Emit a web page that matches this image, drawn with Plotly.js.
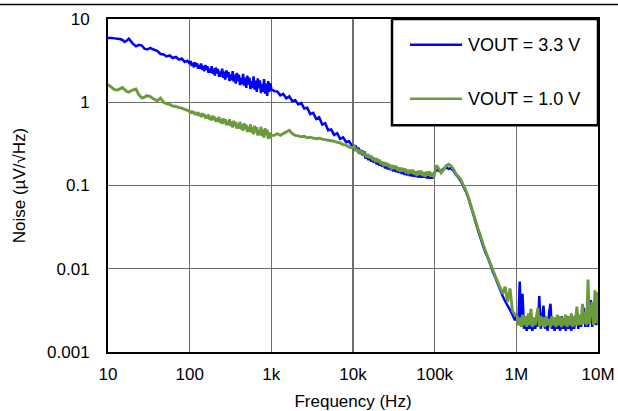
<!DOCTYPE html>
<html>
<head>
<meta charset="utf-8">
<script src="https://cdn.plot.ly/plotly-3.0.1.min.js"></script>
<style>
  html, body { margin: 0; padding: 0; background: #fff; }
  #chart { width: 618px; height: 411px; }
</style>
</head>
<body>
<div id="chart"></div>
<script>
// Frequency points (Hz)
const freqHz = [
  10,11,12,13,14,15,16,17,18,20,22,24,26,28,30,33,36,40,44,48,52,57,62,68,74,80,87,94,100,
  103,106,109,113,116,119,123,127,130,134,138,143,147,151,156,160,165,170,175,181,
  186,192,197,203,209,216,222,229,236,243,250,258,265,273,281,290,299,307,317,326,
  336,346,356,367,378,389,401,413,425,438,451,465,479,493,508,523,539,555,572,589,
  606,625,643,663,682,703,724,746,768,791,815,839,864,890,917,945,973,
  1000,1088,1184,1288,1401,1525,1659,1805,1964,2137,2325,2530,2752,2994,3258,3545,3857,4196,4566,4967,5404,5880,6398,6961,7573,8240,8965,9754,
  10400,10800,11200,11700,12200,12700,13200,13700,14200,14800,15400,16000,16700,17300,18000,18800,19500,20300,21100,21900,
  22800,23700,24700,25700,26700,27800,28900,30000,31200,32500,33800,35100,36500,38000,39500,41100,42700,44400,46200,48100,
  50000,52000,54100,56200,58500,60800,63200,65800,68400,71100,74000,76900,80000,83200,86500,90000,93600,97300,
  105e3,112e3,120e3,129e3,138e3,148e3,158e3,170e3,182e3,195e3,209e3,224e3,240e3,257e3,276e3,296e3,317e3,340e3,364e3,390e3,418e3,448e3,480e3,515e3,552e3,592e3,634e3,680e3,729e3,781e3,837e3,897e3,962e3,
  1.02e6,1.06e6,1.10e6,1.15e6,1.19e6,1.24e6,1.29e6,1.34e6,1.40e6,1.45e6,1.51e6,1.57e6,1.63e6,1.70e6,1.77e6,1.84e6,1.91e6,1.99e6,2.07e6,2.15e6,
  2.24e6,2.33e6,2.42e6,2.52e6,2.62e6,2.72e6,2.83e6,2.94e6,3.06e6,3.18e6,3.31e6,3.44e6,3.58e6,3.72e6,3.87e6,4.03e6,4.19e6,4.36e6,4.53e6,4.71e6,
  4.90e6,5.10e6,5.30e6,5.51e6,5.73e6,5.96e6,6.20e6,6.45e6,6.71e6,6.98e6,7.26e6,7.55e6,7.85e6,8.16e6,8.49e6,8.83e6,9.18e6,9.55e6,9.93e6,1e7
];

// Noise (uV/rtHz), VOUT = 3.3 V
const noise33 = [
  5.9,5.9,5.85,5.8,5.75,5.6,5.3,5.5,5.8,5.1,4.7,4.9,4.8,4.4,4.3,4.5,4.3,4.15,3.8,3.75,3.55,3.65,3.4,3.5,3.25,3.35,3.05,3.15,2.9,
  3.14,2.73,2.98,2.63,3.03,2.70,2.93,2.53,2.79,2.53,2.92,2.45,2.75,2.35,2.81,2.44,2.71,2.25,2.55,2.26,
  2.72,2.19,2.53,2.09,2.61,2.21,2.51,2.02,2.34,2.04,2.53,1.97,2.33,1.87,2.42,2.00,2.32,1.80,2.15,1.83,
  2.36,1.77,2.15,1.67,2.25,1.80,2.14,1.61,1.97,1.64,2.19,1.58,1.97,1.49,2.09,1.63,1.98,1.44,1.81,1.48,
  2.04,1.42,1.82,1.33,1.94,1.47,1.83,1.29,1.66,1.33,1.90,1.27,1.67,1.19,1.80,1.33,1.69,
  1.43,1.36,1.35,1.21,1.26,1.11,1.18,1.03,1.06,0.94,0.98,0.84,0.86,0.72,0.745,0.63,0.66,0.54,0.56,0.46,0.47,0.405,0.425,0.364,0.378,0.331,0.34,0.298,
  0.269,0.302,0.259,0.284,0.239,0.266,0.229,0.258,0.211,0.232,0.202,0.225,0.194,0.218,0.188,0.206,0.179,0.200,0.173,0.195,
  0.168,0.185,0.161,0.180,0.156,0.177,0.153,0.169,0.148,0.166,0.1445,0.164,0.142,0.1575,0.138,0.156,0.134,0.155,0.132,0.149,
  0.129,0.149,0.1275,0.148,0.127,0.144,0.1245,0.144,0.124,0.144,0.124,0.1405,0.122,0.141,0.121,0.141,0.121,0.137,
  0.155,0.15,0.148,0.16,0.165,0.158,0.162,0.15,0.135,0.125,0.113,0.098,0.085,0.072,0.057,0.046,0.036,0.029,0.0235,0.019,0.0158,0.0135,0.0113,0.0092,0.0079,0.0066,0.0056,0.0047,0.0041,0.0036,0.0032,0.0028,0.0024,
  0.0028,0.0022,0.0070,0.0021,0.0050,0.0019,0.0024,0.0018,0.0025,0.0019,0.0024,0.0018,0.0025,0.0019,0.0026,0.0020,0.0047,0.0019,0.0025,0.0036,
  0.0019,0.0026,0.0018,0.0030,0.0038,0.0019,0.0025,0.0018,0.0026,0.0019,0.0025,0.0018,0.0027,0.0019,0.0025,0.0018,0.0027,0.0019,0.0026,0.0018,
  0.0027,0.0019,0.0026,0.0031,0.0019,0.0027,0.0020,0.0026,0.0034,0.0020,0.0028,0.0020,0.0029,0.0042,0.0020,0.0030,0.0035,0.0021,0.0031,0.0024
];

// Noise (uV/rtHz), VOUT = 1.0 V
const noise10 = [
  1.63,1.52,1.42,1.40,1.45,1.50,1.42,1.35,1.32,1.40,1.44,1.22,1.12,1.15,1.20,1.17,1.10,1.04,1.12,1.00,0.96,0.94,0.90,0.89,0.86,0.85,0.82,0.80,0.77,
  0.730,0.792,0.737,0.773,0.704,0.746,0.700,0.764,0.684,0.732,0.663,0.739,0.676,0.720,0.640,0.690,0.639,0.714,0.623,0.679,
  0.603,0.690,0.619,0.669,0.583,0.639,0.584,0.667,0.568,0.630,0.548,0.643,0.568,0.623,0.530,0.591,0.533,0.623,0.518,0.585,
  0.498,0.600,0.520,0.579,0.482,0.547,0.486,0.582,0.472,0.542,0.453,0.560,0.477,0.539,0.439,0.506,0.444,0.543,0.431,0.503,
  0.412,0.522,0.437,0.502,0.399,0.468,0.406,0.508,0.393,0.467,0.375,0.487,0.401,0.467,0.363,0.433,0.370,
  0.40,0.40,0.42,0.40,0.42,0.44,0.46,0.42,0.40,0.395,0.385,0.39,0.375,0.38,0.37,0.365,0.37,0.36,0.355,0.35,0.345,0.34,0.33,0.325,0.31,0.305,0.29,0.285,
  0.297,0.2585,0.2765,0.244,0.269,0.240,0.259,0.226,0.243,0.215,0.238,0.213,0.230,0.201,0.216,0.191,0.212,0.190,0.205,0.180,
  0.193,0.171,0.190,0.171,0.186,0.163,0.176,0.157,0.175,0.158,0.172,0.151,0.164,0.146,0.163,0.147,0.161,0.141,0.154,0.137,
  0.155,0.140,0.155,0.135,0.1485,0.131,0.150,0.135,0.151,0.130,0.145,0.1275,0.147,0.132,0.148,0.128,0.142,0.125,
  0.175,0.16,0.142,0.155,0.172,0.18,0.172,0.158,0.138,0.128,0.118,0.102,0.088,0.074,0.059,0.047,0.038,0.030,0.025,0.020,0.0165,0.0138,0.0116,0.0097,0.0082,0.0069,0.0059,0.0050,0.0061,0.0040,0.0058,0.0031,0.0028,
  0.0027,0.0021,0.0026,0.0020,0.0028,0.0021,0.0027,0.0020,0.0029,0.0021,0.0033,0.0020,0.0026,0.0021,0.0027,0.0034,0.0020,0.0027,0.0021,0.0026,
  0.0020,0.0027,0.0021,0.0025,0.0020,0.0027,0.0021,0.0026,0.0020,0.0028,0.0021,0.0027,0.0020,0.0026,0.0021,0.0028,0.0020,0.0027,0.0021,0.0029,
  0.0020,0.0027,0.0021,0.0035,0.0021,0.0028,0.0021,0.0038,0.0022,0.0030,0.0021,0.0074,0.0022,0.0032,0.0040,0.0021,0.0055,0.0022,0.0052,0.0030
];

const seriesNames = ['VOUT = 3.3 V', 'VOUT = 1.0 V'];
const seriesColors = ['#0000FF', '#6B9B3A'];

const xTickVals = [10, 100, 1e3, 1e4, 1e5, 1e6, 1e7];
const xTickText = ['10', '100', '1k', '10k', '100k', '1M', '10M'];
const yTickVals = [0.001, 0.01, 0.1, 1, 10];
const yTickText = ['0.001', '0.01', '0.1', '1', '10'];

const FONT = 'Liberation Sans, Arial, Helvetica, sans-serif';

const traces = [
  { x: freqHz, y: noise33, name: seriesNames[0], type: 'scatter', mode: 'lines',
    line: { color: seriesColors[0], width: 2.5, simplify: false }, showlegend: false },
  { x: freqHz, y: noise10, name: seriesNames[1], type: 'scatter', mode: 'lines',
    line: { color: seriesColors[1], width: 2.9, simplify: false }, showlegend: false }
];

// pixel helpers for layout decorations (plot area 108..598 x 18.5..352)
const PL = 108, PR = 598, PT = 18.5, PB = 352;
const px = v => (v - PL) / (PR - PL);
const py = v => (PB - v) / (PB - PT);

const layout = {
  width: 618, height: 411,
  margin: { l: PL, r: 618 - PR, t: PT, b: 411 - PB },
  paper_bgcolor: '#ffffff', plot_bgcolor: '#ffffff',
  font: { family: FONT, size: 17, color: '#000' },
  showlegend: false,
  xaxis: {
    type: 'log', range: [1, 7],
    tickvals: xTickVals, ticktext: xTickText,
    showgrid: true, gridcolor: '#6e6e6e', gridwidth: 1.2,
    showline: true, linecolor: '#000', linewidth: 2, mirror: true,
    ticks: '', ticklabelstandoff: 6,
    tickfont: { family: FONT, size: 17, color: '#000' },
    zeroline: false,
    title: { text: 'Frequency (Hz)', font: { family: FONT, size: 17, color: '#000' }, standoff: 12 }
  },
  yaxis: {
    type: 'log', range: [-3, 1],
    tickvals: yTickVals, ticktext: yTickText,
    showgrid: true, gridcolor: '#6e6e6e', gridwidth: 1.2,
    showline: true, linecolor: '#000', linewidth: 2, mirror: true,
    ticks: '', ticklabelstandoff: 13,
    tickfont: { family: FONT, size: 17, color: '#000' },
    zeroline: false,
    title: { text: 'Noise (µV/√Hz)', font: { family: FONT, size: 17, color: '#000' }, standoff: 17 }
  },
  shapes: [
    // header rule across the page
    { type: 'line', xref: 'paper', yref: 'paper', x0: px(0), x1: px(618), y0: py(4), y1: py(4),
      line: { color: '#000', width: 1.5 } },
    // legend box
    { type: 'rect', xref: 'paper', yref: 'paper', layer: 'above',
      x0: px(392), x1: px(598), y0: py(125), y1: py(18.5),
      fillcolor: '#ffffff', line: { color: '#000', width: 2.5 } },
    { type: 'line', xref: 'paper', yref: 'paper', layer: 'above',
      x0: px(410), x1: px(462), y0: py(44.3), y1: py(44.3),
      line: { color: seriesColors[0], width: 2.5 } },
    { type: 'line', xref: 'paper', yref: 'paper', layer: 'above',
      x0: px(410), x1: px(462), y0: py(98.3), y1: py(98.3),
      line: { color: seriesColors[1], width: 2.5 } }
  ],
  annotations: [
    { xref: 'paper', yref: 'paper', x: px(466), y: py(44.5), xanchor: 'left', yanchor: 'middle',
      text: seriesNames[0], showarrow: false, font: { family: FONT, size: 18, color: '#000' } },
    { xref: 'paper', yref: 'paper', x: px(466), y: py(98.5), xanchor: 'left', yanchor: 'middle',
      text: seriesNames[1], showarrow: false, font: { family: FONT, size: 18, color: '#000' } }
  ]
};

Plotly.newPlot('chart', traces, layout, { displayModeBar: false, staticPlot: true });
</script>
</body>
</html>
